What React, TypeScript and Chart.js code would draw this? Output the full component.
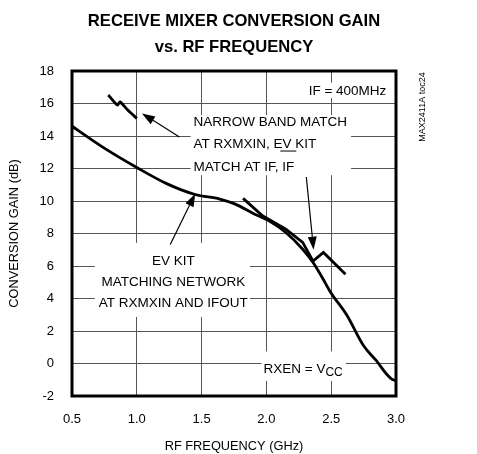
import React, { useEffect, useRef } from "react";
import { Chart, registerables } from "chart.js";

Chart.register(...registerables);

const FONT = '"Liberation Sans", Arial, Helvetica, sans-serif';

// ---- text ----
const titleLines = ["RECEIVE MIXER CONVERSION GAIN", "vs. RF FREQUENCY"];
const xAxisTitle = "RF FREQUENCY (GHz)";
const yAxisTitle = "CONVERSION GAIN (dB)";
const figureId = "MAX2411A toc24";

// ---- ticks ----
const xTickValues = [0.5, 1.0, 1.5, 2.0, 2.5, 3.0];
const yTickValues = [-2, 0, 2, 4, 6, 8, 10, 12, 14, 16, 18];

// ---- series: EV kit matching network ----
const evKitFreq = [0.5, 0.74, 1.0, 1.23, 1.45, 1.64, 1.76, 1.91, 2.02, 2.15, 2.28, 2.36, 2.45, 2.49, 2.62, 2.75, 2.85, 2.93, 2.97, 3.0];
const evKitGain = [14.6, 13.3, 12.06, 11.07, 10.4, 10.12, 9.81, 9.19, 8.78, 8.06, 7.03, 6.21, 5.02, 4.45, 2.98, 1.09, 0.16, -0.68, -0.98, -1.05];

// ---- series: narrow band match (two measured segments) ----
const narrowLowFreq = [0.78, 0.85, 0.87, 0.93, 1.0];
const narrowLowGain = [16.52, 15.9, 16.1, 15.6, 15.08];
const narrowHighFreq = [1.82, 1.97, 2.15, 2.28, 2.36, 2.44, 2.61];
const narrowHighGain = [10.16, 9.09, 8.27, 7.45, 6.3, 6.83, 5.49];

const toPoints = (xs: number[], ys: number[]) => xs.map((x, i) => ({ x, y: ys[i] }));

// ---- annotations (anchored in data units) ----
type Block = {
  lines: string[];
  x: number;
  y: number;
  align: "left" | "center" | "right";
  spacing: number;
  pad: [number, number, number, number]; // left, top, right, bottom
  sub?: string;
  overline?: { line: number; prefix: string; text: string };
};

const textBlocks: Block[] = [
  { lines: ["IF = 400MHz"], x: 2.925, y: 16.75, align: "right", spacing: 0, pad: [3, 2, 3, 0] },
  {
    lines: ["NARROW BAND MATCH", "AT RXMXIN, EV KIT", "MATCH AT IF, IF"],
    x: 1.438, y: 14.87, align: "left", spacing: 22.8, pad: [3, 0, 4, 1],
    overline: { line: 2, prefix: "MATCH AT IF, ", text: "IF" },
  },
  {
    lines: ["EV KIT", "MATCHING NETWORK", "AT RXMXIN AND IFOUT"],
    x: 1.282, y: 6.27, align: "center", spacing: 20.8, pad: [4, 12, 2, 7],
  },
  { lines: ["RXEN = V"], sub: "CC", x: 1.978, y: -0.35, align: "left", spacing: 0, pad: [2, 11, 3, 5] },
];

const arrows = [
  { from: [1.329, 13.94], to: [1.04, 15.39] },
  { from: [2.308, 11.48], to: [2.364, 7.0] },
  { from: [1.258, 7.32], to: [1.451, 10.45] },
];

const annotationPlugin = {
  id: "annotations",
  beforeDatasetsDraw(chart: any) {
    const ctx: CanvasRenderingContext2D = chart.ctx;
    const xs = chart.scales.x;
    const ys = chart.scales.y;
    ctx.save();
    const fs = 13.5;
    for (const b of textBlocks) {
      ctx.font = `${fs}px ${FONT}`;
      const px = xs.getPixelForValue(b.x);
      const py = ys.getPixelForValue(b.y);
      const widths = b.lines.map((l) => ctx.measureText(l).width);
      if (b.sub) {
        ctx.font = `12px ${FONT}`;
        widths[widths.length - 1] += ctx.measureText(b.sub).width;
        ctx.font = `${fs}px ${FONT}`;
      }
      const maxW = Math.max(...widths);
      let left = px;
      if (b.align === "center") left = px - maxW / 2;
      if (b.align === "right") left = px - maxW;
      const top = py - fs / 2;
      const bottom = py + b.spacing * (b.lines.length - 1) + fs / 2;
      ctx.fillStyle = "#fff";
      ctx.fillRect(left - b.pad[0], top - b.pad[1], maxW + b.pad[0] + b.pad[2], bottom - top + b.pad[1] + b.pad[3]);
      ctx.fillStyle = "#000";
      ctx.textBaseline = "middle";
      ctx.textAlign = "left";
      b.lines.forEach((l, i) => {
        const y = py + b.spacing * i;
        let lx = left;
        if (b.align === "center") lx = px - widths[i] / 2;
        if (b.align === "right") lx = px - widths[i];
        ctx.font = `${fs}px ${FONT}`;
        ctx.fillText(l, lx, y);
        if (b.sub && i === b.lines.length - 1) {
          const w = ctx.measureText(l).width;
          ctx.font = `12px ${FONT}`;
          ctx.fillText(b.sub, lx + w, y + 3);
        }
      });
      if (b.overline) {
        ctx.font = `${fs}px ${FONT}`;
        const y = py + b.spacing * b.overline.line - b.spacing * 0.72;
        const ox = left + ctx.measureText(b.overline.prefix).width;
        const ow = ctx.measureText(b.overline.text).width;
        ctx.strokeStyle = "#000";
        ctx.lineWidth = 1;
        ctx.beginPath();
        ctx.moveTo(ox - 2, y);
        ctx.lineTo(ox + ow + 2, y);
        ctx.stroke();
      }
    }
    ctx.restore();
  },
  afterDatasetsDraw(chart: any) {
    const ctx: CanvasRenderingContext2D = chart.ctx;
    const xs = chart.scales.x;
    const ys = chart.scales.y;
    const { left, top, right, bottom } = chart.chartArea;
    ctx.save();
    // arrows
    ctx.strokeStyle = "#000";
    ctx.fillStyle = "#000";
    for (const a of arrows) {
      const x1 = xs.getPixelForValue(a.from[0]);
      const y1 = ys.getPixelForValue(a.from[1]);
      const x2 = xs.getPixelForValue(a.to[0]);
      const y2 = ys.getPixelForValue(a.to[1]);
      const ang = Math.atan2(y2 - y1, x2 - x1);
      const len = 13;
      const hw = 4.5;
      const bx = x2 - len * Math.cos(ang);
      const by = y2 - len * Math.sin(ang);
      ctx.lineWidth = 1.2;
      ctx.beginPath();
      ctx.moveTo(x1, y1);
      ctx.lineTo(bx, by);
      ctx.stroke();
      ctx.beginPath();
      ctx.moveTo(x2, y2);
      ctx.lineTo(bx + hw * Math.sin(ang), by - hw * Math.cos(ang));
      ctx.lineTo(bx - hw * Math.sin(ang), by + hw * Math.cos(ang));
      ctx.closePath();
      ctx.fill();
    }
    // frame
    ctx.lineWidth = 3;
    ctx.strokeRect(left, top, right - left, bottom - top);
    // title, centred over the plot area
    const cx = (left + right) / 2;
    ctx.font = `bold 16.6px ${FONT}`;
    ctx.textAlign = "center";
    ctx.textBaseline = "middle";
    ctx.fillText(titleLines[0], cx, 21);
    ctx.fillText(titleLines[1], cx, 47);
    // figure id
    ctx.font = `9px ${FONT}`;
    ctx.translate(right + 27, top + 36);
    ctx.rotate(-Math.PI / 2);
    ctx.fillText(figureId, 0, 0);
    ctx.restore();
  },
};

export default function App() {
  const ref = useRef<HTMLCanvasElement>(null);
  useEffect(() => {
    const canvas = ref.current;
    if (!canvas) return;
    Chart.defaults.font.family = FONT;
    Chart.defaults.color = "#000";
    const lineStyle = {
      borderColor: "#000",
      borderWidth: 2.8,
      pointRadius: 0,
      fill: false,
    };
    const chart = new Chart(canvas, {
      type: "line",
      data: {
        datasets: [
          { ...lineStyle, label: "EV kit", data: toPoints(evKitFreq, evKitGain), cubicInterpolationMode: "monotone" },
          { ...lineStyle, label: "Narrow band low", data: toPoints(narrowLowFreq, narrowLowGain), tension: 0.2 },
          { ...lineStyle, label: "Narrow band high", data: toPoints(narrowHighFreq, narrowHighGain), tension: 0 },
        ],
      },
      options: {
        responsive: false,
        animation: false,
        devicePixelRatio: 1,
        layout: { padding: { left: 0, right: 81, top: 71, bottom: 0 } },
        plugins: {
          legend: { display: false },
          tooltip: { enabled: false },
          title: { display: false },
        },
        scales: {
          x: {
            type: "linear",
            min: 0.5,
            max: 3.0,
            afterBuildTicks: (s: any) => {
              s.ticks = xTickValues.map((v) => ({ value: v }));
            },
            afterFit: (s: any) => {
              s.height = 58;
            },
            grid: { color: "#555", lineWidth: 1, drawTicks: false },
            border: { display: false },
            ticks: {
              padding: 16,
              font: { size: 13, family: FONT },
              color: "#000",
              maxRotation: 0,
              callback: (v: any) => Number(v).toFixed(1),
            },
            title: {
              display: true,
              text: xAxisTitle,
              color: "#000",
              font: { size: 12.8, family: FONT },
              padding: { top: 0, bottom: 0 },
            },
          },
          y: {
            type: "linear",
            min: -2,
            max: 18,
            afterBuildTicks: (s: any) => {
              s.ticks = yTickValues.map((v) => ({ value: v }));
            },
            afterFit: (s: any) => {
              s.width = 72;
            },
            grid: { color: "#555", lineWidth: 1, drawTicks: false },
            border: { display: false },
            ticks: {
              padding: 18,
              font: { size: 13, family: FONT },
              color: "#000",
              callback: (v: any) => String(v),
            },
            title: {
              display: true,
              text: yAxisTitle,
              color: "#000",
              font: { size: 12.8, family: FONT },
              padding: { top: 7, bottom: 0 },
            },
          },
        },
      },
      plugins: [annotationPlugin],
    } as any);
    return () => chart.destroy();
  }, []);
  return (
    <div style={{ position: "absolute", left: 0, top: 0, width: 477, height: 454, background: "#fff" }}>
      <canvas ref={ref} width={477} height={454} style={{ display: "block" }} />
    </div>
  );
}
